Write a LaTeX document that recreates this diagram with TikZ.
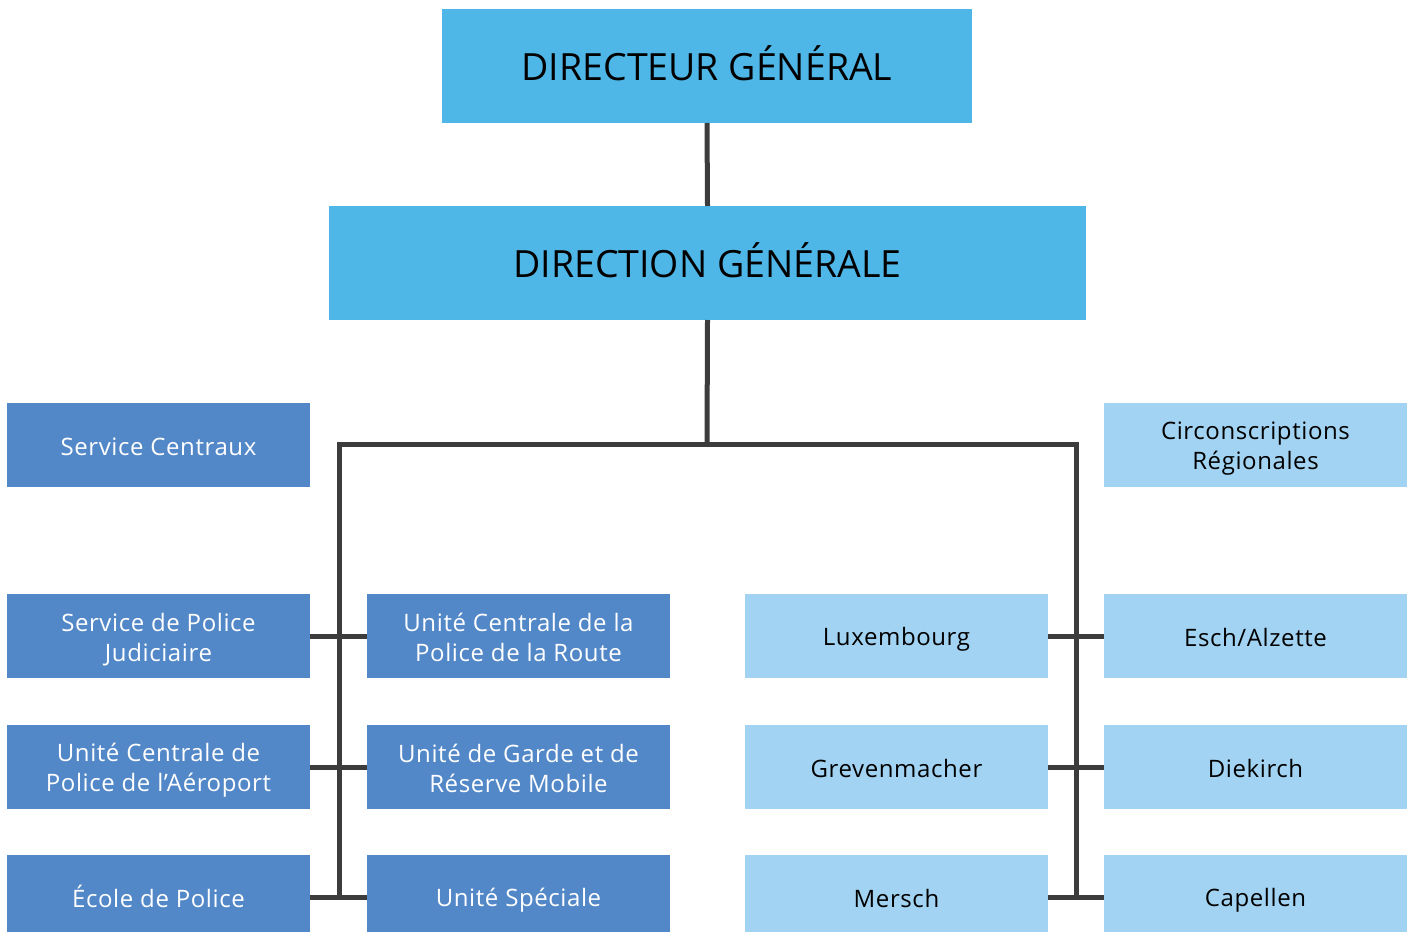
\documentclass[tikz,border=0pt]{standalone}
\usepackage{fontspec}
\setmainfont{Open Sans}
\definecolor{topblue}{RGB}{79,183,232}
\definecolor{midblue}{RGB}{83,136,200}
\definecolor{lightblue}{RGB}{162,211,242}
\definecolor{linegray}{RGB}{60,60,60}
\newcommand\lstrut{\rule[-4.4pt]{0pt}{30pt}}
\newcommand\tstrut{\rule[-6pt]{0pt}{40pt}}
\newcommand\boxfont{\fontsize{24}{30}\selectfont\addfontfeature{LetterSpace=2.5}\setlength{\lineskiplimit}{-100pt}}
\tikzset{
  box/.style={inner sep=0pt, outer sep=0pt, align=center, minimum width=303pt, minimum height=84pt, font=\boxfont},
  darkbox/.style={box, fill=midblue, text=white},
  lightbox/.style={box, fill=lightblue, text=black},
  topbox/.style={inner sep=0pt, outer sep=0pt, fill=topblue, minimum height=114pt, font=\fontsize{37.5}{40}\selectfont},
  conn/.style={draw=linegray, line width=5pt}
}
\begin{document}
\begin{tikzpicture}[x=1pt,y=-1pt]
\clip (0,0) rectangle (1415,931);
\fill[white] (0,0) rectangle (1415,931);
\node[topbox, minimum width=530pt] (dg) at (707,66) {\tstrut DIRECTEUR GÉNÉRAL};
\node[topbox, minimum width=757pt] (dir) at (707.5,263) {\tstrut DIRECTION GÉNÉRALE};
\node[darkbox] (sc) at (158.5,445) {\lstrut Service Centraux};
\node[lightbox] (cr) at (1255.5,445) {\lstrut Circonscriptions\\\lstrut Régionales};
\node[darkbox] (spj) at (158.5,636) {\lstrut Service de Police\\\lstrut Judiciaire};
\node[darkbox] (ucpr) at (518.5,636) {\lstrut Unité Centrale de la\\\lstrut Police de la Route};
\node[lightbox] (lux) at (896.5,636) {\lstrut Luxembourg};
\node[lightbox] (esch) at (1255.5,636) {\lstrut Esch/Alzette};
\node[darkbox] (ucpa) at (158.5,767) {\lstrut Unité Centrale de\\\lstrut Police de l’Aéroport};
\node[darkbox] (ugrm) at (518.5,767) {\lstrut Unité de Garde et de\\\lstrut Réserve Mobile};
\node[lightbox] (grev) at (896.5,767) {\lstrut Grevenmacher};
\node[lightbox] (diek) at (1255.5,767) {\lstrut Diekirch};
\node[darkbox] (ecole) at (158.5,897) {\lstrut École de Police};
\node[darkbox] (us) at (518.5,897) {\lstrut Unité Spéciale};
\node[lightbox] (mersch) at (896.5,897) {\lstrut Mersch};
\node[lightbox] (cap) at (1255.5,897) {\lstrut Capellen};
\coordinate (hub) at (707,444);
\coordinate (lt) at (339,444);
\coordinate (rt) at (1076,444);
\coordinate (lb) at (339,897);
\coordinate (rb) at (1076,897);
\draw[conn] (dg.south) -- (dir.north);
\draw[conn] (dir.south) -- (hub);
\draw[conn, line cap=rect] (lb) -- (lt) -- (rt) -- (rb);
\draw[conn] (spj.east) -- (ucpr.west);
\draw[conn] (ucpa.east) -- (ugrm.west);
\draw[conn] (ecole.east) -- (us.west);
\draw[conn] (lux.east) -- (esch.west);
\draw[conn] (grev.east) -- (diek.west);
\draw[conn] (mersch.east) -- (cap.west);
\end{tikzpicture}
\end{document}
